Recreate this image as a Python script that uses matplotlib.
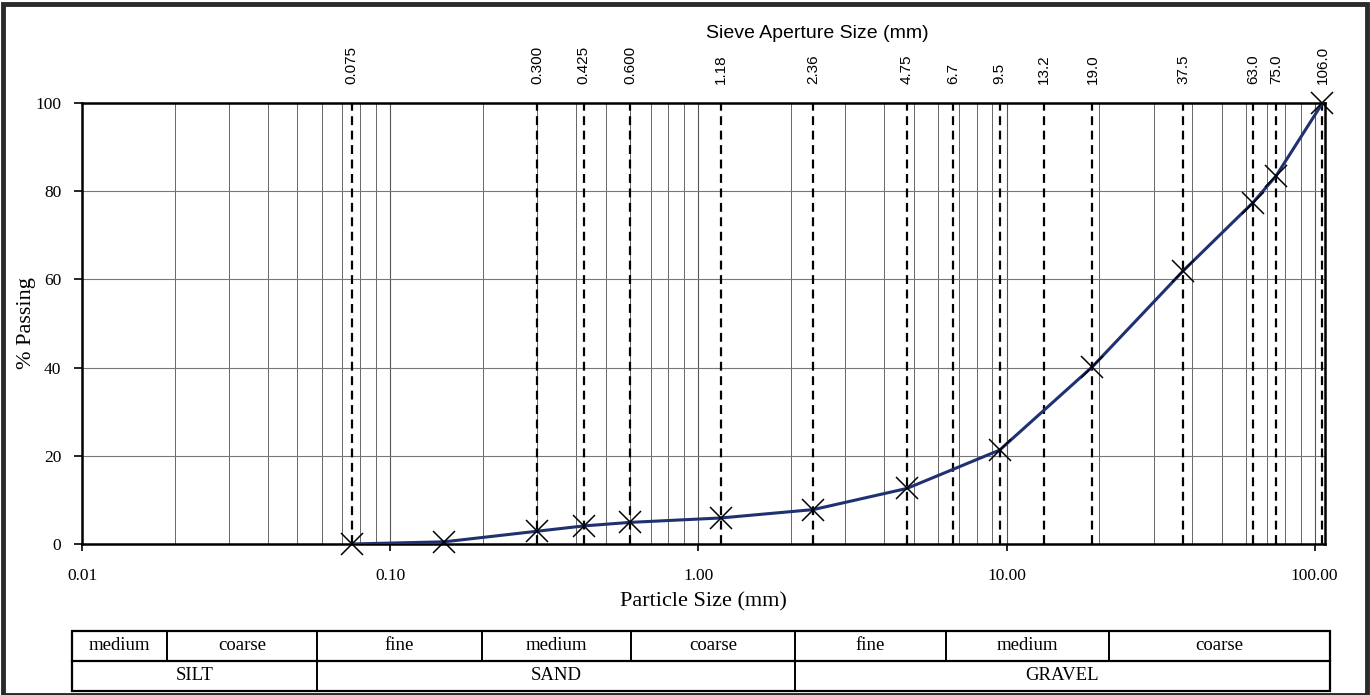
import matplotlib
matplotlib.use('Agg')
import matplotlib.pyplot as plt
import numpy as np
from matplotlib.ticker import FixedLocator, LogLocator, NullFormatter, NullLocator, FuncFormatter
from matplotlib.patches import Rectangle

# grading data
particle_size = [0.075, 0.15, 0.3, 0.425, 0.6, 1.18, 2.36, 4.75, 9.5, 19.0, 37.5, 63.0, 75.0, 106.0]
pct_passing = [0.0, 0.5, 2.9, 4.1, 4.9, 5.9, 7.8, 12.6, 21.3, 40.2, 62.0, 77.4, 83.5, 100.0]

# sieve apertures shown on the top axis
sieve_sizes = [0.075, 0.3, 0.425, 0.6, 1.18, 2.36, 4.75, 6.7, 9.5, 13.2, 19.0, 37.5, 63.0, 75.0, 106.0]
sieve_labels = ['0.075', '0.300', '0.425', '0.600', '1.18', '2.36', '4.75', '6.7', '9.5',
                '13.2', '19.0', '37.5', '63.0', '75.0', '106.0']

y_ticks = [0, 20, 40, 60, 80, 100]
x_ticks = [0.01, 0.1, 1.0, 10.0, 100.0]

# classification table
sub_labels = ['medium', 'coarse', 'fine', 'medium', 'coarse', 'fine', 'medium', 'coarse']
main_labels = ['SILT', 'SAND', 'GRAVEL']

SERIF = ['Liberation Serif', 'DejaVu Serif']
SANS = ['Liberation Sans', 'DejaVu Sans']

W, H = 1370, 695
fig = plt.figure(figsize=(W / 100, H / 100), dpi=100)

# main axes (pixel box 82..1325, 103..544)
ax = fig.add_axes([82 / W, 1 - 544 / H, (1325 - 82) / W, (544 - 103) / H])
ax.set_xscale('log')
ax.set_xlim(0.01, 108)
ax.set_ylim(0, 100)

ax.xaxis.set_major_locator(FixedLocator(x_ticks))
ax.xaxis.set_major_formatter(FuncFormatter(lambda v, p: f'{v:.2f}'))
ax.xaxis.set_minor_locator(LogLocator(base=10, subs=np.arange(2, 10)))
ax.xaxis.set_minor_formatter(NullFormatter())
ax.set_yticks(y_ticks)

ax.grid(which='major', axis='x', color='#555555', lw=0.8)
ax.grid(which='minor', axis='x', color='#666666', lw=0.7)
ax.grid(which='major', axis='y', color='#777777', lw=0.8)

ax.tick_params(axis='x', which='major', length=5, width=1.2, pad=12, labelsize=12.5)
ax.tick_params(axis='x', which='minor', length=0)
ax.tick_params(axis='y', length=6, width=1.2, pad=9, labelsize=12.5)
for lab in ax.get_xticklabels() + ax.get_yticklabels():
    lab.set_family(SERIF)

for sp in ax.spines.values():
    sp.set_linewidth(1.8)
    sp.set_color('black')

# sieve aperture dashed lines
for s in sieve_sizes:
    ax.axvline(s, color='black', ls=(0, (4, 2.5)), lw=1.6, zorder=2)

ax.plot(particle_size, pct_passing, color='#1f3170', lw=2.2, zorder=3)
ax.plot(particle_size, pct_passing, ls='none', marker='x', ms=16, mec='black', mew=1.1,
        zorder=4, clip_on=False)

ax.set_xlabel('Particle Size (mm)', family=SERIF, fontsize=16)
ax.xaxis.set_label_coords(0.5, -(602 - 544) / (544 - 103))
ax.xaxis.label.set_va('center')
ax.set_ylabel('% Passing', family=SERIF, fontsize=16)
ax.yaxis.set_label_coords(-(82 - 27) / (1325 - 82), 0.5)
ax.yaxis.label.set_va('center')

# top axis with sieve sizes
ax2 = ax.twiny()
ax2.set_xscale('log')
ax2.set_xlim(ax.get_xlim())
ax2.xaxis.set_major_locator(FixedLocator(sieve_sizes))
ax2.set_xticklabels(sieve_labels)
ax2.xaxis.set_minor_locator(NullLocator())
ax2.tick_params(axis='x', length=0, pad=14, labelsize=11, labelrotation=90)
for lab in ax2.get_xticklabels():
    lab.set_family(SANS)
ax2.set_xlabel('Sieve Aperture Size (mm)', family=SANS, fontsize=14)
ax2.xaxis.set_label_coords((817 - 82) / (1325 - 82), (544 - 33) / (544 - 103))
ax2.xaxis.label.set_va('center')
for sp in ax2.spines.values():
    sp.set_visible(False)

# classification table below the chart
top_edges = [72, 167, 317, 482, 631, 795, 946, 1109, 1330]
main_edges = [72, 317, 795, 1330]
t_top, t_mid, t_bot = 631, 661, 691
tab = fig.add_axes([0, 0, 1, 1], zorder=5)
tab.set_xlim(0, W)
tab.set_ylim(H, 0)
tab.axis('off')
tab.add_patch(Rectangle((top_edges[0], t_top), top_edges[-1] - top_edges[0], t_bot - t_top,
                        fill=False, ec='black', lw=1.6))
tab.plot([top_edges[0], top_edges[-1]], [t_mid, t_mid], color='black', lw=1.6)
for i, name in enumerate(sub_labels):
    x0, x1 = top_edges[i], top_edges[i + 1]
    if i > 0:
        tab.plot([x0, x0], [t_top, t_mid], color='black', lw=1.4)
    tab.text((x0 + x1) / 2, (t_top + t_mid) / 2, name, ha='center', va='center',
             family=SERIF, fontsize=13.5)
for i, name in enumerate(main_labels):
    x0, x1 = main_edges[i], main_edges[i + 1]
    if i > 0:
        tab.plot([x0, x0], [t_mid, t_bot], color='black', lw=1.4)
    tab.text((x0 + x1) / 2, (t_mid + t_bot) / 2, name, ha='center', va='center',
             family=SERIF, fontsize=13.5)

# outer frame
tab.add_patch(Rectangle((3, 4), W - 6, H - 4, fill=False, ec='#2a2a2a', lw=3.5))

fig.savefig('out.png', dpi=100)
